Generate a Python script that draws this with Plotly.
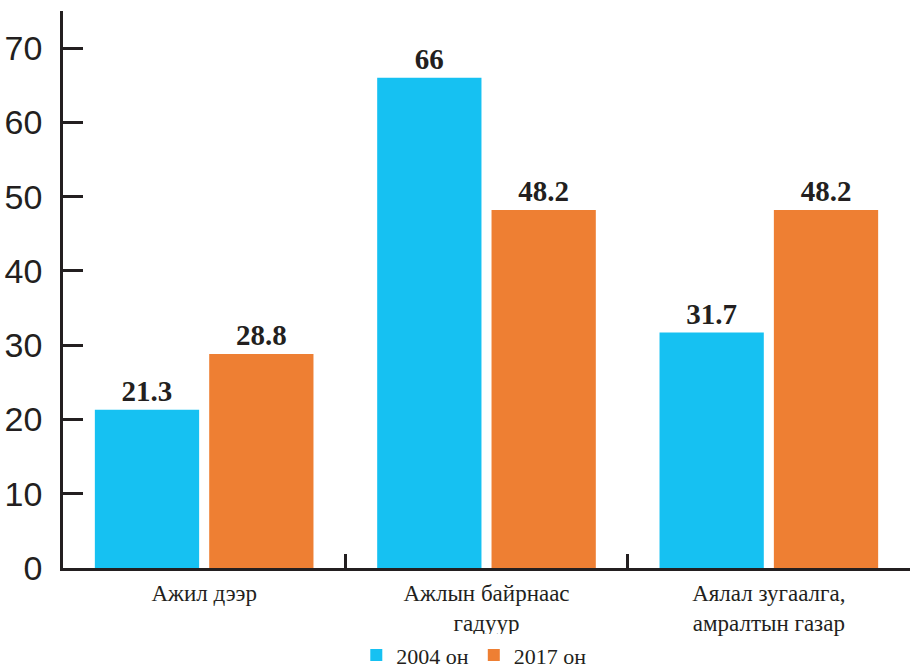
import plotly.graph_objects as go

categories = ["Ажил дээр", "Ажлын байрнаас<br>гадуур", "Аялал зугаалга,<br>амралтын газар"]
series_names = ["2004 он", "2017 он"]
values_2004 = [21.3, 66, 31.7]
values_2017 = [28.8, 48.2, 48.2]
y_ticks = [0, 10, 20, 30, 40, 50, 60, 70]

ink = "#231f20"
fig = go.Figure()
for name, vals, col in [(series_names[0], values_2004, "#16c1f2"),
                        (series_names[1], values_2017, "#ee7f33")]:
    fig.add_trace(go.Bar(
        x=categories, y=vals, name=name, marker=dict(color=col, line=dict(width=0)),
        text=[f"{v:g}" for v in vals], textposition="outside", cliponaxis=False,
        textfont=dict(family="Liberation Serif", size=29, color=ink, weight="bold"),
    ))

fig.update_layout(
    width=910, height=672,
    margin=dict(l=63, r=0, t=11, b=104, autoexpand=False),
    plot_bgcolor="white", paper_bgcolor="white",
    barmode="group", bargap=0.19, bargroupgap=0.088,
    showlegend=True,
    legend=dict(orientation="h", x=0.485, xanchor="center", y=-0.119, yanchor="top",
                font=dict(family="Liberation Serif", size=22, color=ink),
                itemwidth=30, traceorder="normal"),
    font=dict(color=ink),
)
fig.update_yaxes(range=[0, 75], tickvals=y_ticks, showgrid=False, zeroline=False,
                 showline=True, linecolor=ink, linewidth=2.5,
                 ticks="inside", ticklen=20, tickwidth=2.5, tickcolor=ink,
                 tickfont=dict(family="Liberation Sans", size=34, color=ink),
                 ticklabelstandoff=11)
fig.update_xaxes(showgrid=False, showline=True, linecolor=ink, linewidth=2.5,
                 ticks="inside", ticklen=14, tickwidth=2.5, tickcolor=ink,
                 tickson="boundaries", ticklabelstandoff=3,
                 tickfont=dict(family="Liberation Serif", size=23, color=ink))

fig.write_html("out.html")
